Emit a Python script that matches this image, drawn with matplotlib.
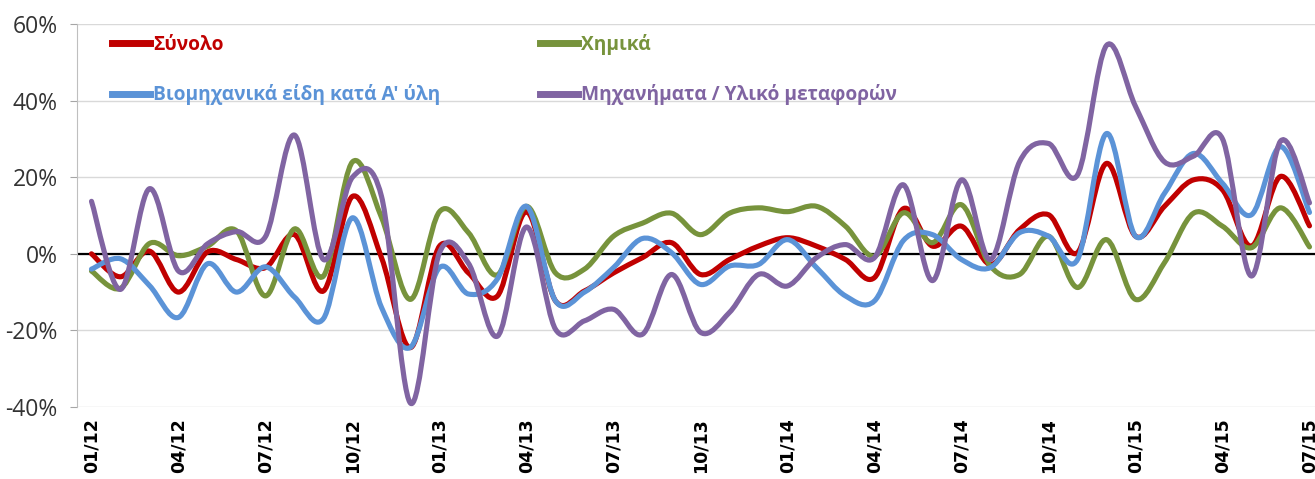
import numpy as np
import matplotlib
matplotlib.use("Agg")
import matplotlib.pyplot as plt
from matplotlib.path import Path
from matplotlib.patches import PathPatch
from matplotlib.lines import Line2D
from matplotlib.ticker import FuncFormatter

months = ["01/12", "02/12", "03/12", "04/12", "05/12", "06/12", "07/12", "08/12", "09/12", "10/12",
          "11/12", "12/12", "01/13", "02/13", "03/13", "04/13", "05/13", "06/13", "07/13", "08/13",
          "09/13", "10/13", "11/13", "12/13", "01/14", "02/14", "03/14", "04/14", "05/14", "06/14",
          "07/14", "08/14", "09/14", "10/14", "11/14", "12/14", "01/15", "02/15", "03/15", "04/15",
          "05/15", "06/15", "07/15"]
tick_labels = ["01/12", "04/12", "07/12", "10/12", "01/13", "04/13", "07/13", "10/13",
               "01/14", "04/14", "07/14", "10/14", "01/15", "04/15", "07/15"]

synolo = [0, -6, 0.7, -10, 0.5, -1.5, -3.6, 5, -9.7, 15, -1, -24.5, 2, -5, -11, 11, -12.3, -9.7,
          -5, -1, 2.9, -5.4, -1.5, 2, 4.2, 2, -1.5, -6.2, 11.8, 2, 7.2, -2.8, 6.3, 10.2, 0.3, 23.6,
          4.6, 12.4, 19.3, 16.7, 2, 20.2, 7.3]
chimika = [-4.5, -9, 2.7, -0.5, 2, 6, -11, 6.5, -5.8, 24, 9.5, -11.9, 11, 5.5, -5.5, 12.4, -5, -4,
           4.6, 8, 10.6, 5, 10.6, 12, 11, 12.4, 7.2, -0.6, 10.7, 2.9, 12.8, -3.2, -5.4, 4.6, -8.8,
           3.7, -11.9, -2.3, 10.6, 7.2, 1.6, 12, 1.8]
viomichanika = [-4, -1.3, -8.3, -16.6, -2.6, -10, -3.4, -11.3, -16.9, 9.4, -14, -24.4, -3.6, -10.5,
                -6.5, 12.4, -12.3, -10, -3.6, 4, 0.3, -8, -3.2, -2.8, 3.7, -3.6, -11, -12.3, 3.5,
                5, -1.5, -3.6, 5.5, 4.6, -1.5, 31.4, 4.6, 15.8, 26.2, 18.4, 10.2, 28, 10.8]
michanimata = [13.7, -9.3, 17, -4.5, 2.6, 5.8, 4.5, 31, -1.5, 20, 15, -39, 0.3, -2.5, -21.5, 7,
               -19.7, -17.5, -14.5, -21, -5.4, -20.5, -15.3, -5.4, -8.4, -1, 2.4, -1, 18, -7,
               19.3, -1.5, 24, 28.8, 20.6, 54.4, 38.5, 24, 25.5, 30, -5.8, 29.4, 13.3]

series_names = ["Σύνολο", "Χημικά", "Βιομηχανικά είδη κατά Α' ύλη", "Μηχανήματα / Υλικό μεταφορών"]
series_values = [synolo, chimika, viomichanika, michanimata]
colors = ["#C00000", "#77933C", "#5B93D7", "#8064A2"]


def smooth_path(xs, ys):
    pts = np.column_stack([xs, ys]).astype(float)
    n = len(pts)
    verts = [pts[0]]
    codes = [Path.MOVETO]
    for i in range(n - 1):
        p0 = pts[max(i - 1, 0)]
        p1 = pts[i]
        p2 = pts[i + 1]
        p3 = pts[min(i + 2, n - 1)]
        c1 = p1 + (p2 - p0) / 6.0
        c2 = p2 - (p3 - p1) / 6.0
        verts += [c1, c2, p2]
        codes += [Path.CURVE4] * 3
    return Path(np.array(verts), codes)


W, H = 1315, 479
fig = plt.figure(figsize=(W / 100, H / 100), dpi=100)
left_px, top_px, bottom_px = 77, 24, 407
unit_px = 29.0
width_px = unit_px * 43
ax = fig.add_axes([left_px / W, 1 - bottom_px / H, width_px / W, (bottom_px - top_px) / H])

x = np.arange(len(months))
handles = {}
for name, vals, c in zip(series_names, series_values, colors):
    p = smooth_path(x, vals)
    ax.add_patch(PathPatch(p, facecolor="none", edgecolor=c, lw=3.7,
                           capstyle="round", joinstyle="round", zorder=3))
    handles[name] = Line2D([], [], color=c, lw=5)

ax.axhline(0, color="black", lw=1.6, zorder=2)
ax.set_xlim(-0.5, 42.5)
ax.set_ylim(-40, 60)
ax.set_yticks([-40, -20, 0, 20, 40, 60])
ax.yaxis.set_major_formatter(FuncFormatter(lambda v, p: f"{v:.0f}%"))
ax.grid(axis="y", color="#D9D9D9", lw=1, zorder=0)
ax.set_axisbelow(True)

tick_pos = [months.index(t) for t in tick_labels]
ax.set_xticks(tick_pos)
ax.set_xticklabels(tick_labels, rotation=90, fontsize=12.5, fontweight="bold",
                   family="DejaVu Sans", color="black")
ax.tick_params(axis="x", length=0, pad=8)
ax.tick_params(axis="y", length=5, color="#A6A6A6", labelsize=16.5, labelcolor="#333333", pad=9)
for lab in ax.get_yticklabels():
    lab.set_family("Open Sans")

for s in ["top", "right", "bottom"]:
    ax.spines[s].set_visible(False)
ax.spines["left"].set_color("#BFBFBF")

order = [series_names[0], series_names[2], series_names[1], series_names[3]]
leg = ax.legend([handles[n] for n in order], order, ncol=2, loc="upper left",
                bbox_to_anchor=(0.014, 1.02), frameon=False, handlelength=2.0,
                handletextpad=0.15, labelspacing=1.55, columnspacing=5.2,
                prop={"family": "Open Sans", "weight": "bold", "size": 13.8},
                labelcolor="linecolor")

fig.savefig("out.png", dpi=100)
